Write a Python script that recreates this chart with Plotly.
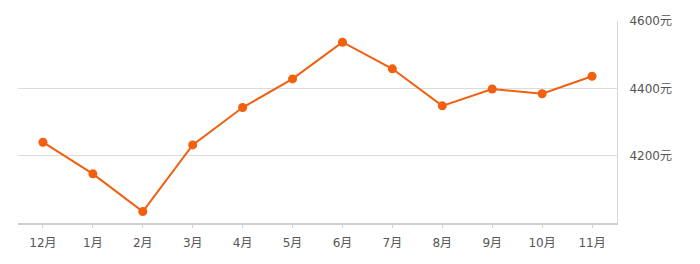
import plotly.graph_objects as go

months = ["12月", "1月", "2月", "3月", "4月", "5月", "6月", "7月", "8月", "9月", "10月", "11月"]
prices = [4240, 4146, 4034, 4232, 4343, 4428, 4537, 4458, 4348, 4398, 4384, 4436]
y_ticks = [4200, 4400, 4600]
y_tick_labels = ["4200元", "4400元", "4600元"]

fig = go.Figure()
fig.add_trace(go.Scatter(
    x=list(range(len(months))), y=prices, mode="lines+markers",
    line=dict(color="#f2600f", width=2),
    marker=dict(color="#f2600f", size=9),
    hoverinfo="skip", showlegend=False,
))

fig.update_layout(
    width=700, height=264,
    margin=dict(l=18, r=83, t=21, b=41),
    paper_bgcolor="white", plot_bgcolor="white",
    font=dict(family="DejaVu Sans, Noto Sans CJK SC", size=12, color="#555555"),
    xaxis=dict(
        range=[-0.5, 11.5], tickmode="array",
        tickvals=list(range(len(months))), ticktext=months,
        showgrid=False, zeroline=False,
        showline=True, linecolor="#d0d0d0", linewidth=2,
        ticks="outside", ticklen=3, tickcolor="#d0d0d0",
        ticklabelstandoff=5, fixedrange=True,
    ),
    yaxis=dict(
        side="right", range=[4000, 4600],
        tickmode="array", tickvals=y_ticks, ticktext=y_tick_labels,
        showgrid=True, gridcolor="#dcdcdc", gridwidth=1,
        zeroline=False, showline=True, linecolor="#d8d8d8", linewidth=1,
        ticks="", ticklabelstandoff=9, fixedrange=True,
    ),
)

fig.write_html("out.html")
